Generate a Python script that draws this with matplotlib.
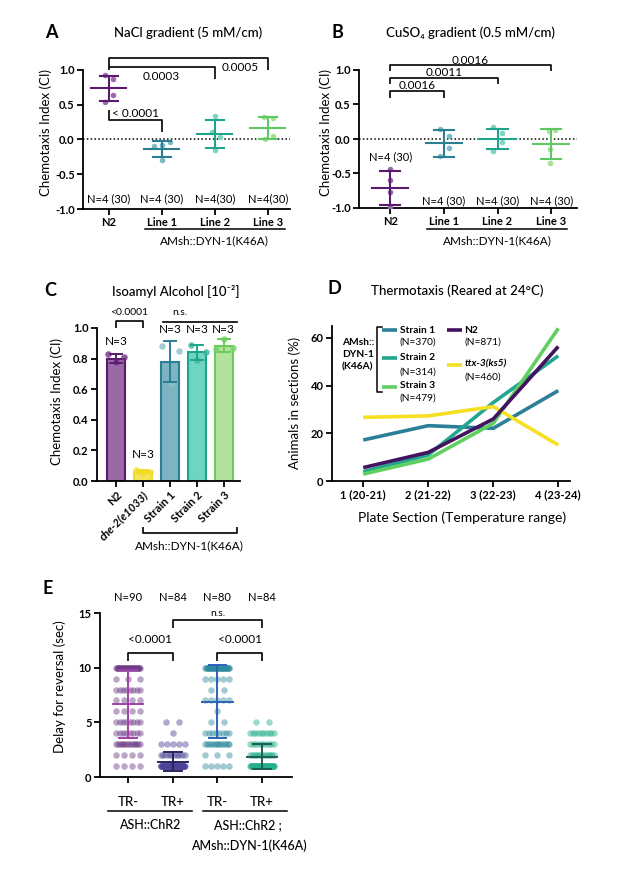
import numpy as np
import matplotlib
matplotlib.use('Agg')
import matplotlib.pyplot as plt

plt.rcParams['font.family'] = ['Lato', 'DejaVu Sans']
plt.rcParams['axes.unicode_minus'] = False

# ---------------- data ----------------
groups_ab = ['N2', 'Line 1', 'Line 2', 'Line 3']

# A: NaCl gradient
nacl_pts = [[0.93, 0.87, 0.64, 0.54],
            [-0.04, -0.08, -0.10, -0.30],
            [0.34, 0.11, 0.04, -0.15],
            [0.33, 0.31, 0.05, 0.01]]
nacl_mean = [0.735, -0.135, 0.08, 0.17]
nacl_sd = [0.185, 0.115, 0.20, 0.16]

# B: CuSO4 gradient
cuso4_pts = [[-0.44, -0.60, -0.77, -0.98],
             [0.15, 0.05, -0.125, -0.25],
             [0.17, 0.09, -0.04, -0.17],
             [0.13, 0.12, -0.14, -0.35]]
cuso4_mean = [-0.71, -0.065, 0.0, -0.07]
cuso4_sd = [0.24, 0.195, 0.15, 0.22]

# C: isoamyl alcohol
groups_c = ['N2', 'che-2(e1033)', 'Strain 1', 'Strain 2', 'Strain 3']
iaa_pts = [[0.83, 0.81, 0.78],
           [0.07, 0.06, 0.05],
           [0.88, 0.85, 0.64],
           [0.89, 0.84, 0.79],
           [0.93, 0.87, 0.86]]
iaa_mean = [0.80, 0.06, 0.78, 0.84, 0.885]
iaa_sd = [0.03, 0.01, 0.133, 0.05, 0.043]

# D: thermotaxis
sections = ['1 (20-21)', '2 (21-22)', '3 (22-23)', '4 (23-24)']
strain1 = [17.2, 23.2, 22.1, 37.9]
strain2 = [3.9, 10.9, 32.9, 52.5]
strain3 = [2.9, 9.2, 24.2, 64.0]
n2 = [5.6, 12.0, 26.0, 56.4]
ttx3 = [26.7, 27.3, 31.2, 15.1]

# E: delay for reversal (counts of animals at each delay 1..10 s)
delay_levels = [1, 2, 3, 4, 5, 6, 7, 8, 9, 10]
chr2_trm = [4, 4, 14, 8, 8, 4, 4, 8, 3, 33]
chr2_trp = [66, 10, 5, 1, 2, 0, 0, 0, 0, 0]
dyn_trm = [5, 3, 14, 8, 2, 1, 5, 2, 5, 35]
dyn_trp = [48, 14, 10, 10, 2, 0, 0, 0, 0, 0]
e_mean = [6.67, 1.4, 6.88, 1.87]
e_sd = [3.1, 0.87, 3.33, 1.18]
e_n = ['N=90', 'N=84', 'N=80', 'N=84']

# ---------------- colours ----------------
dark_ab = ['#5b1a6e', '#2a7f93', '#1fa48c', '#5ec962']
light_ab = ['#9a6aaa', '#80b8c6', '#7fd3c0', '#a8e29a']

W, H = 617, 871
fig = plt.figure(figsize=(W / 100, H / 100), dpi=100)

TICK = 8
ANN = 8.5
NLAB = 8
TITLE = 9.5
YLAB = 9.5


def add_ax(l, t, r, b):
    ax = fig.add_axes([l / W, 1 - b / H, (r - l) / W, (b - t) / H])
    for s in ['top', 'right']:
        ax.spines[s].set_visible(False)
    for s in ['left', 'bottom']:
        ax.spines[s].set_linewidth(1.3)
    ax.tick_params(width=1.3, length=4, labelsize=TICK, pad=2)
    return ax


def ftext(x, y, s, **kw):
    fig.text(x / W, 1 - y / H, s, **kw)


def bracket(ax, x0, x1, y, y0, y1, lw=1.2):
    ax.plot([x0, x0, x1, x1], [y0, y, y, y1], color='k', lw=lw, clip_on=False,
            solid_capstyle='butt')


def mean_sd(ax, x, m, sd, col, hw, cw, lw=1.5):
    ax.plot([x - hw, x + hw], [m, m], color=col, lw=lw, zorder=4)
    ax.plot([x, x], [m - sd, m + sd], color=col, lw=lw, zorder=4)
    ax.plot([x - cw, x + cw], [m + sd, m + sd], color=col, lw=lw, zorder=4)
    ax.plot([x - cw, x + cw], [m - sd, m - sd], color=col, lw=lw, zorder=4)


# ================= Panel A =================
axA = add_ax(83, 70, 290, 209)
axA.set_xlim(-0.49, 3.42)
axA.set_ylim(-1, 1)
xs = np.arange(4)
offA = [[-0.07, 0.07, 0.07, -0.07], [0.15, 0.0, -0.15, 0.0],
        [0.0, -0.06, 0.1, 0.0], [-0.08, 0.1, 0.1, -0.06]]
axA.axhline(0, color='k', ls=(0, (1, 1.5)), lw=1.1)
for i in range(4):
    axA.scatter(xs[i] + np.array(offA[i]), nacl_pts[i], s=16, color=light_ab[i], lw=0, zorder=3)
    mean_sd(axA, xs[i], nacl_mean[i], nacl_sd[i], dark_ab[i], 0.33, 0.17)
    axA.text(xs[i], -0.86, 'N=4 (30)' if i < 2 else 'N=4(30)', ha='center', va='center', fontsize=NLAB)
axA.set_xticks(xs, groups_ab, fontweight='bold')
axA.set_yticks([-1, -0.5, 0, 0.5, 1], ['-1.0', '-0.5', '0.0', '0.5', '1.0'], fontweight='bold')
bracket(axA, 0, 3, 1.17, 1.04, 1.0)
bracket(axA, 0, 2, 1.04, 1.0, 0.87)
bracket(axA, 0, 1, 0.28, 0.42, 0.11)
axA.text(2.47, 1.04, '0.0005', ha='center', va='center', fontsize=ANN)
axA.text(0.98, 0.91, '0.0003', ha='center', va='center', fontsize=ANN)
axA.text(0.5, 0.38, '< 0.0001', ha='center', va='center', fontsize=ANN)
axA.plot([0.68, 3.32], [-1.29, -1.29], color='k', lw=1.1, clip_on=False)
axA.text(2.0, -1.46, 'AMsh::DYN-1(K46A)', ha='center', va='center', fontsize=ANN)
ftext(51, 33, 'A', fontsize=13, fontweight='bold', ha='center', va='center')
ftext(188, 33, 'NaCl gradient (5 mM/cm)', fontsize=TITLE, fontweight='medium', ha='center', va='center')
ftext(46, 133, 'Chemotaxis Index (CI)', fontsize=YLAB, rotation=90, ha='center', va='center')

# ================= Panel B =================
axB = add_ax(359, 70, 577, 208)
axB.set_xlim(-0.58, 3.48)
axB.set_ylim(-1, 1)
offB = [[0.0, 0.0, 0.0, 0.0], [-0.07, 0.1, 0.1, -0.07],
        [-0.08, 0.08, 0.08, -0.08], [0.07, -0.05, -0.02, -0.02]]
axB.axhline(0, color='k', ls=(0, (1, 1.5)), lw=1.1)
for i in range(4):
    axB.scatter(xs[i] + np.array(offB[i]), cuso4_pts[i], s=16, color=light_ab[i], lw=0, zorder=3)
    mean_sd(axB, xs[i], cuso4_mean[i], cuso4_sd[i], dark_ab[i], 0.34, 0.19)
    axB.text(xs[i], -0.265 if i == 0 else -0.89, 'N=4 (30)', ha='center', va='center', fontsize=NLAB)
axB.set_xticks(xs, groups_ab, fontweight='bold')
axB.set_yticks([-1, -0.5, 0, 0.5, 1], ['-1.0', '-0.5', '0.0', '0.5', '1.0'], fontweight='bold')
bracket(axB, 0, 3, 1.07, 0.99, 0.99)
bracket(axB, 0, 2, 0.89, 0.79, 0.79)
bracket(axB, 0, 1, 0.69, 0.60, 0.60)
axB.text(1.5, 1.14, '0.0016', ha='center', va='center', fontsize=ANN)
axB.text(1.0, 0.97, '0.0011', ha='center', va='center', fontsize=ANN)
axB.text(0.5, 0.78, '0.0016', ha='center', va='center', fontsize=ANN)
axB.plot([0.69, 3.3], [-1.31, -1.31], color='k', lw=1.1, clip_on=False)
axB.text(2.0, -1.47, 'AMsh::DYN-1(K46A)', ha='center', va='center', fontsize=ANN)
ftext(337, 33, 'B', fontsize=13, fontweight='bold', ha='center', va='center')
ftext(471, 33, 'CuSO\u2084 gradient (0.5 mM/cm)', fontsize=TITLE, fontweight='medium', ha='center', va='center')
ftext(326, 133, 'Chemotaxis Index (CI)', fontsize=YLAB, rotation=90, ha='center', va='center')

# ================= Panel C =================
axC = add_ax(97, 328, 240, 481)
axC.set_xlim(-0.7, 4.6)
axC.set_ylim(0, 1.0)
xc = np.arange(5)
fill_c = ['#9a6aa6', '#f3e55a', '#7fb3c2', '#6fd4c0', '#b3e29d']
edge_c = ['#5b1a6e', '#f1dc25', '#2a7f93', '#1fa48c', '#6acb5b']
pt_c = ['#6e3484', '#f2dc3a', '#8cc0cc', '#3cb79b', '#77d46c']
offC = [[-0.3, 0.3, 0.0], [-0.25, 0.25, 0.0], [-0.3, 0.35, 0.05],
        [-0.2, 0.35, 0.0], [0.0, 0.35, -0.3]]
axC.bar(xc, iaa_mean, width=0.65, color=fill_c, edgecolor=edge_c, lw=1.5, zorder=2)
for i in range(5):
    axC.scatter(xc[i] + np.array(offC[i]), iaa_pts[i], s=22, color=pt_c[i], alpha=0.8, lw=0, zorder=3)
    mean_sd(axC, xc[i], iaa_mean[i], iaa_sd[i], edge_c[i], 0.0, 0.22, lw=1.4)
axC.set_xticks(xc, groups_c, rotation=45, ha='right', rotation_mode='anchor', fontweight='bold')
axC.get_xticklabels()[1].set_fontstyle('italic')
axC.set_yticks([0, 0.2, 0.4, 0.6, 0.8, 1.0], ['0.0', '0.2', '0.4', '0.6', '0.8', '1.0'], fontweight='bold')
axC.text(0, 0.915, 'N=3', ha='center', va='center', fontsize=ANN)
axC.text(1, 0.17, 'N=3', ha='center', va='center', fontsize=ANN)
for i in range(2, 5):
    axC.text(xc[i], 0.99, 'N=3', ha='center', va='center', fontsize=ANN)
bracket(axC, 0, 1, 1.046, 1.0, 1.0)
axC.text(0.5, 1.10, '<0.0001', ha='center', va='center', fontsize=7.5)
axC.plot([1.74, 4.48], [1.04, 1.04], color='k', lw=1.2, clip_on=False)
axC.text(2.37, 1.10, 'n.s.', ha='center', va='center', fontsize=7.5)
bracket(axC, 1.0, 4.48, -0.34, -0.30, -0.30)
axC.text(2.74, -0.425, 'AMsh::DYN-1(K46A)', ha='center', va='center', fontsize=ANN)
ftext(50, 290, 'C', fontsize=13, fontweight='bold', ha='center', va='center')
ftext(176, 292, 'Isoamyl Alcohol [10\u207b\u00b2]', fontsize=TITLE, fontweight='medium', ha='center', va='center')
ftext(57, 401, 'Chemotaxis Index (CI)', fontsize=YLAB, rotation=90, ha='center', va='center')

# ================= Panel D =================
axD = add_ax(332, 326, 570, 481)
axD.set_xlim(0.52, 4.18)
axD.set_ylim(0, 65)
xd = np.arange(1, 5)
d_series = [(strain1, '#2d7f97'), (strain2, '#21a68d'), (strain3, '#5fcf5f'),
            (ttx3, '#f5e022'), (n2, '#44135f')]
for vals, col in d_series:
    axD.plot(xd, vals, color=col, lw=2.6, solid_capstyle='butt')
axD.set_xticks(xd, sections, fontweight='bold')
axD.set_yticks([0, 20, 40, 60], ['0', '20', '40', '60'], fontweight='bold')
tr = axD.transAxes
fs = 7.3
axD.text(0.042, 0.813, 'AMsh::\nDYN-1\n(K46A)', transform=tr, ha='left', va='center',
         fontsize=fs, fontweight='bold', linespacing=1.45)
axD.plot([0.21, 0.189, 0.189, 0.21], [0.994, 0.994, 0.574, 0.574], transform=tr, color='k', lw=1.1)
leg = [(0.21, 0.974, '#2d7f97', 'Strain 1', '(N=370)', 0.974, 0.897),
       (0.21, 0.794, '#21a68d', 'Strain 2', '(N=314)', 0.794, 0.703),
       (0.21, 0.606, '#5fcf5f', 'Strain 3', '(N=479)', 0.613, 0.535),
       (0.483, 0.974, '#44135f', 'N2', '(N=871)', 0.974, 0.897),
       (0.483, 0.748, '#f5e022', 'ttx-3(ks5)', '(N=460)', 0.755, 0.671)]
for x0, y0, col, name, nlab, yn, yc in leg:
    axD.plot([x0, x0 + 0.063], [y0, y0], transform=tr, color=col, lw=2.6, solid_capstyle='butt')
    t = axD.text(x0 + 0.074, yn, name, transform=tr, ha='left', va='center', fontsize=fs, fontweight='bold')
    if name.startswith('ttx'):
        t.set_fontstyle('italic')
    axD.text(x0 + 0.074, yc, nlab, transform=tr, ha='left', va='center', fontsize=fs)
ftext(334, 289, 'D', fontsize=13, fontweight='bold', ha='center', va='center')
ftext(457, 291, 'Thermotaxis (Reared at 24\u00b0C)', fontsize=TITLE, fontweight='medium', ha='center', va='center')
ftext(295, 403, 'Animals in sections (%)', fontsize=YLAB, rotation=90, ha='center', va='center')
ftext(462, 518, 'Plate Section (Temperature range)', fontsize=10, ha='center', va='center')

# ================= Panel E =================
axE = add_ax(100, 613, 292, 777)
axE.set_xlim(-0.63, 3.67)
axE.set_ylim(0, 15)
e_groups = [chr2_trm, chr2_trp, dyn_trm, dyn_trp]
e_base = ['#6b3a86', '#4a4296', '#2f8a9e', '#25b08c']
e_line = ['#a040a8', '#2a2560', '#2d62b8', '#1d5e52']
for g, counts in enumerate(e_groups):
    for lev, n in zip(delay_levels, counts):
        if n == 0:
            continue
        span = min(0.54, (n - 1) * 0.29)
        xx = g + np.linspace(-span / 2, span / 2, n)
        axE.scatter(xx, np.full(n, lev), s=22, color=e_base[g], alpha=0.45, lw=0, zorder=2)
    mean_sd(axE, g, e_mean[g], e_sd[g], e_line[g], 0.34, 0.2, lw=1.4)
    axE.text(g, 16.4, e_n[g], ha='center', va='center', fontsize=NLAB)
axE.set_xticks(np.arange(4), ['TR-', 'TR+', 'TR-', 'TR+'])
axE.tick_params(axis='x', labelsize=9.5, pad=10)
for lab in axE.get_xticklabels():
    lab.set_fontweight('medium')
axE.set_yticks([0, 5, 10, 15], ['0', '5', '10', '15'], fontweight='bold')
bracket(axE, 0, 1, 11.3, 10.6, 10.6)
bracket(axE, 2, 3, 11.3, 10.6, 10.6)
bracket(axE, 1, 3, 14.35, 13.65, 13.65)
axE.text(0.5, 12.6, '<0.0001', ha='center', va='center', fontsize=ANN)
axE.text(2.5, 12.6, '<0.0001', ha='center', va='center', fontsize=ANN)
axE.text(2.0, 15.0, 'n.s.', ha='center', va='center', fontsize=7.5)
axE.plot([-0.45, 1.43], [-3.1, -3.1], color='k', lw=1.1, clip_on=False)
axE.plot([1.68, 3.56], [-3.1, -3.1], color='k', lw=1.1, clip_on=False)
axE.text(0.5, -4.4, 'ASH::ChR2', ha='center', va='center', fontsize=9, fontweight='medium')
axE.text(2.68, -4.4, 'ASH::ChR2 ;', ha='center', va='center', fontsize=9, fontweight='medium')
axE.text(2.72, -6.24, 'AMsh::DYN-1(K46A)', ha='center', va='center', fontsize=9, fontweight='medium')
ftext(48, 588, 'E', fontsize=13, fontweight='bold', ha='center', va='center')
ftext(60, 687, 'Delay for reversal (sec)', fontsize=YLAB, rotation=90, ha='center', va='center')

fig.savefig('out.png', dpi=100)
